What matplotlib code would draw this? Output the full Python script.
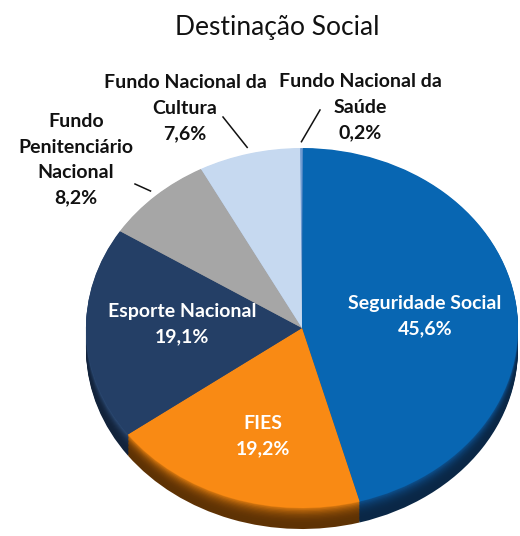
import numpy as np
import matplotlib
matplotlib.use("Agg")
import matplotlib.pyplot as plt
from matplotlib.colors import to_rgb

# ---- data ----
categories = ["Fundo Nacional da\nSaúde", "Seguridade Social", "FIES",
              "Esporte Nacional", "Fundo\nPenitenciário\nNacional",
              "Fundo Nacional da\nCultura"]
values = [0.2, 45.6, 19.2, 19.1, 8.2, 7.6]
title = "Destinação Social"

top_colors = ["#6f9bd3", "#0866b2", "#f98a14", "#243f66", "#a6a6a6", "#c6d9f0"]
side_dark = ["#1f3f66", "#0a2746", "#5e3204", "#12233b", "#555555", "#6a7c95"]
side_light = ["#5a86bd", "#0d4f8c", "#d9780f", "#2c4a73", "#8c8c8c", "#a9bfdc"]

# ---- layout (pixel space of a 520x536 image) ----
CX, CY, RX, RY = 302, 328, 216, 180
DEPTH = 21 / RY
START = 90.5


def to_data(px, py):
    return (px - CX) / RX, (CY - py) / RY


def blend(c1, c2, t):
    a, b = np.array(to_rgb(c1)), np.array(to_rgb(c2))
    return tuple(a * (1 - t) + b * t)


fig = plt.figure(figsize=(5.2, 5.36), dpi=100)
ax = fig.add_axes([0, 0, 1, 1])

# side of the 3D pie: stacked layers
n_layers = 16
for i, k in enumerate(np.linspace(DEPTH, 0.004, n_layers)):
    t = i / (n_layers - 1)
    cols = [blend(d, l, t ** 3) for d, l in zip(side_dark, side_light)]
    ax.pie(values, colors=cols, startangle=START, counterclock=False,
           center=(0, -k), radius=1, wedgeprops=dict(linewidth=0))

# top face
wedges, _ = ax.pie(values, colors=top_colors, startangle=START,
                   counterclock=False, center=(0, 0), radius=1,
                   wedgeprops=dict(linewidth=0))

ax.set_aspect("auto")
x0, _ = to_data(0, 0)
x1, _ = to_data(520, 0)
_, ytop = to_data(0, 0)
_, ybot = to_data(0, 536)
ax.set_xlim(x0, x1)
ax.set_ylim(ybot, ytop)
ax.axis("off")

pcts = [f"{v:.1f}".replace(".", ",") + "%" for v in values]

# label layout: (pixel center x, pixel center y, color)
label_pos = [(360, 107, "#111111"), (425, 316, "white"), (263, 436, "white"),
             (182, 324, "white"), (76, 160, "#111111"), (185, 108, "#111111")]
leader_outer = {0: (320, 110), 5: (223, 117), 4: (135, 184)}

for i, (cat, pct) in enumerate(zip(categories, pcts)):
    px, py, col = label_pos[i]
    x, y = to_data(px, py)
    ax.text(x, y, f"{cat}\n{pct}", ha="center", va="center", color=col,
            fontsize=14, fontweight="bold", family=["Lato", "DejaVu Sans"],
            linespacing=1.6)
    if i in leader_outer:
        w = wedges[i]
        mid = np.deg2rad((w.theta1 + w.theta2) / 2)
        xi, yi = 1.035 * np.cos(mid), 1.035 * np.sin(mid)
        xo, yo = to_data(*leader_outer[i])
        ax.plot([xi, xo], [yi, yo], color="#111111", lw=1.1)

tx, ty = to_data(277, 27)
ax.text(tx, ty, title, ha="center", va="center", fontsize=19,
        color="#111111", family=["Lato", "DejaVu Sans"], fontweight="normal")

fig.savefig("out.png", dpi=100, facecolor="white")
